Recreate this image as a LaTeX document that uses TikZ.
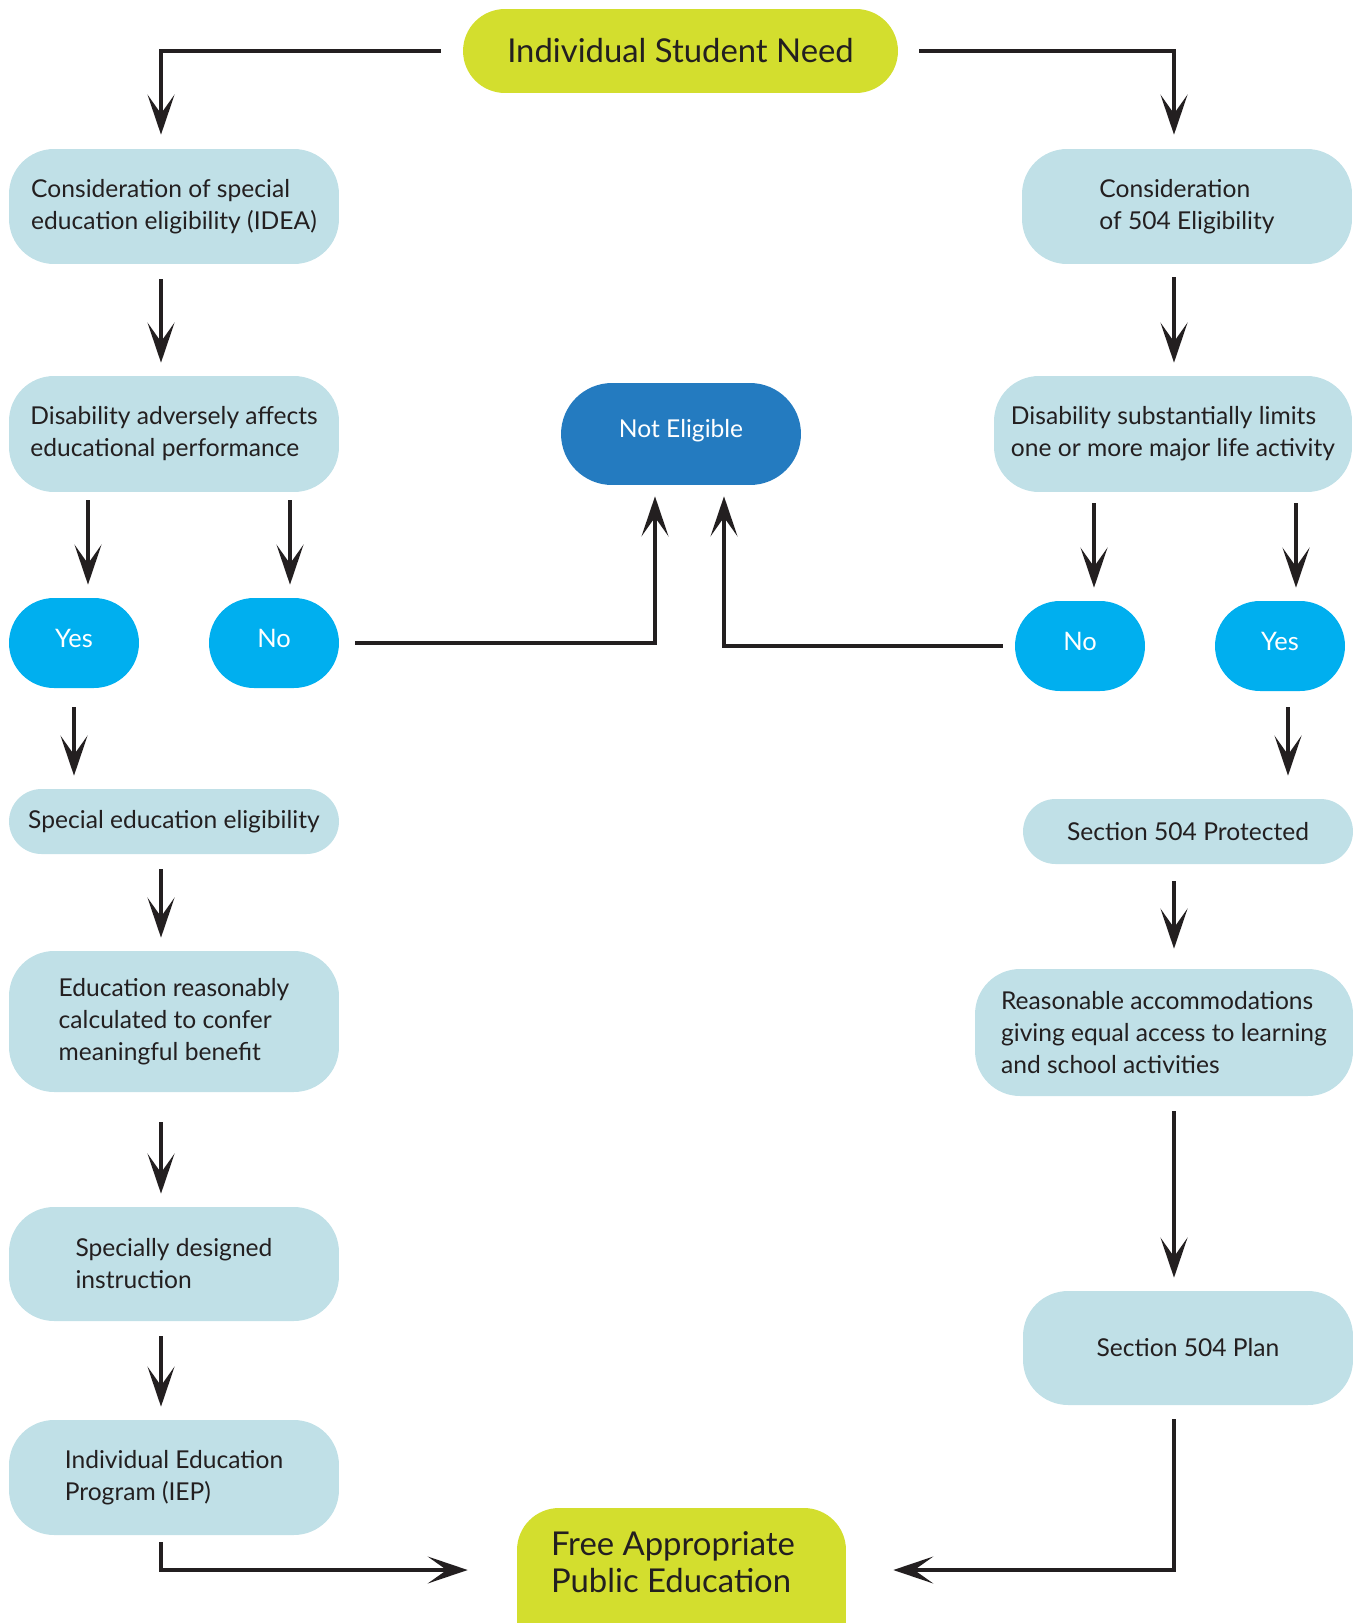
\documentclass[tikz,border=0pt]{standalone}
\usepackage{fontspec}
\setmainfont{Lato}
\usetikzlibrary{arrows.meta,positioning}

\definecolor{needgreen}{HTML}{D3DE2E}
\definecolor{boxblue}{HTML}{C0E0E7}
\definecolor{noblue}{HTML}{247BC0}
\definecolor{ynblue}{HTML}{00AFEF}
\definecolor{inkgray}{HTML}{231F20}

\tikzset{
	stepbox/.style={fill=boxblue, text=inkgray, rounded corners=0.9cm, inner sep=0pt,
		minimum width=6.6cm, minimum height=2.3cm, align=left,
		font=\fontsize{14}{18.2}\selectfont},
	endbox/.style={fill=needgreen, text=inkgray, rounded corners=0.84cm, inner sep=0pt,
		minimum height=1.68cm, align=left, font=\fontsize{18.7}{21.6}\selectfont},
	answer/.style={fill=ynblue, text=white, rounded corners=0.9cm, inner sep=0pt,
		minimum width=2.6cm, minimum height=1.8cm, text depth=0.2cm,
		font=\fontsize{14.5}{18}\selectfont},
	arr/.style={draw=inkgray, line width=0.07cm, shorten <=0.3cm, shorten >=0.26cm,
		-{Stealth[length=0.8cm, width=0.54cm, inset=0.38cm]}},
}

\begin{document}
\begin{tikzpicture}[x=0.02cm, y=-0.02cm]
	\useasboundingbox (0,0) rectangle (1353,1623);
	\clip (0,0) rectangle (1353,1623);

	% start and end
	\node[endbox, minimum width=8.7cm] (need) at (680.5,51) {Individual Student Need};
	\node[endbox, align=flush left, minimum width=6.58cm, minimum height=3.2cm, text width=5.22cm,
		text height=0.44cm, text depth=1.76cm] (fape) at (681.5,1588) {Free Appropriate\\Public Education};

	% IDEA side
	\node[stepbox] (idea) at (174,206.5) {Consideration of special\\education eligibility (IDEA)};
	\node[stepbox, minimum height=2.32cm] (adverse) at (174,434) {Disability adversely affects\\educational performance};
	\node[answer] (yesL) at (74,643) {Yes};
	\node[answer] (noL) at (274,643) {No};
	\node[stepbox, minimum height=1.3cm, rounded corners=0.65cm] (spedelig) at (174,821.5) {Special education eligibility};
	\node[stepbox, minimum height=2.82cm] (benefit) at (174,1021.5) {Education reasonably\\calculated to confer\\meaningful benefit};
	\node[stepbox, minimum height=2.28cm] (sdi) at (174,1264) {Specially designed\\instruction};
	\node[stepbox] (iep) at (174,1477.5) {Individual Education\\Program (IEP)};

	% 504 side
	\node[stepbox] (s504) at (1187,206.5) {Consideration\\of 504 Eligibility};
	\node[stepbox, minimum width=7.16cm, minimum height=2.32cm] (limits) at (1173,434) {Disability substantially limits\\one or more major life activity};
	\node[answer] (noR) at (1080,646) {No};
	\node[answer] (yesR) at (1280,646) {Yes};
	\node[stepbox, minimum height=1.3cm, rounded corners=0.65cm] (protected) at (1188,831.5) {Section 504 Protected};
	\node[stepbox, minimum width=7.56cm, minimum height=2.54cm] (accomm) at (1164,1032.5) {Reasonable accommodations\\giving equal access to learning\\and school activities};
	\node[stepbox, minimum height=2.28cm] (plan) at (1188,1348) {Section 504 Plan};

	% middle
	\node[answer, fill=noblue, minimum width=4.8cm, minimum height=2.04cm, rounded corners=1.02cm,
		text depth=0.24cm, font=\fontsize{14}{18}\selectfont] (noelig) at (681,434) {Not Eligible};

	% arrow columns and ports
	\coordinate (lcol) at (161,0);
	\coordinate (rcol) at (1174,0);
	\coordinate (fapein) at (681.5,1570);
	\path (yesL.north) ++(14,0) coordinate (yesLin);
	\path (noL.north) ++(16,0) coordinate (noLin);
	\path (noR.north) ++(14,0) coordinate (noRin);
	\path (yesR.north) ++(16,0) coordinate (yesRin);
	\path (yesR.south) ++(8,0) coordinate (yesRout);
	\path (noelig.south) ++(-26,0) coordinate (nein1);
	\path (noelig.south) ++(43,0) coordinate (nein2);

	\draw[arr, shorten <=0.44cm, shorten >=0.28cm] (need.west) -| (idea.north -| lcol);
	\draw[arr, shorten <=0.42cm, shorten >=0.28cm] (need.east) -| (s504.north -| rcol);

	\draw[arr] (idea.south -| lcol) -- (adverse.north -| lcol);
	\draw[arr, shorten <=0.16cm] (adverse.south -| yesLin) -- (yesLin);
	\draw[arr, shorten <=0.16cm] (adverse.south -| noLin) -- (noLin);
	\draw[arr, shorten <=0.38cm] (yesL.south) -- (spedelig.north -| yesL);
	\draw[arr] (spedelig.south -| lcol) -- (benefit.north -| lcol);
	\draw[arr, shorten <=0.6cm] (benefit.south -| lcol) -- (sdi.north -| lcol);
	\draw[arr] (sdi.south -| lcol) -- (iep.north -| lcol);
	\draw[arr, shorten <=0.14cm, shorten >=0.98cm] (iep.south -| lcol) |- (fape.west |- fapein);

	\draw[arr, shorten <=0.26cm] (s504.south -| rcol) -- (limits.north -| rcol);
	\draw[arr, shorten <=0.22cm] (limits.south -| noRin) -- (noRin);
	\draw[arr, shorten <=0.22cm] (limits.south -| yesRin) -- (yesRin);
	\draw[arr, shorten <=0.32cm, shorten >=0.46cm] (yesRout) -- (protected.north -| yesRout);
	\draw[arr, shorten <=0.34cm, shorten >=0.4cm] (protected.south -| rcol) -- (accomm.north -| rcol);
	\draw[arr] (accomm.south -| rcol) -- (plan.north -| rcol);
	\draw[arr, shorten <=0.28cm, shorten >=0.94cm] (plan.south -| rcol) |- (fape.east |- fapein);

	\draw[arr, shorten <=0.32cm, shorten >=0.22cm] (noL.east) -| (nein1);
	\draw[arr, shorten <=0.24cm, shorten >=0.22cm] (noR.west) -| (nein2);
\end{tikzpicture}
\end{document}
